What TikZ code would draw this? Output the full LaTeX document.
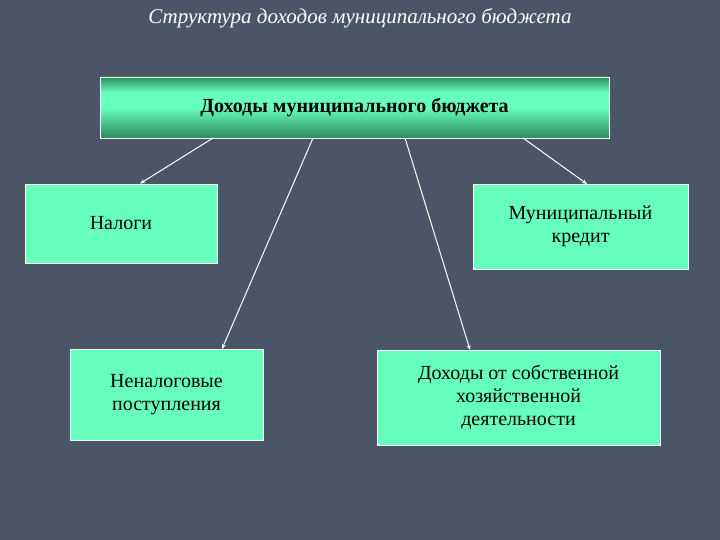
\documentclass[tikz,border=0pt]{standalone}
\usepackage{fontspec}
\setmainfont{Liberation Serif}
\usetikzlibrary{arrows.meta}
\definecolor{bg}{HTML}{4B5568}
\definecolor{boxfill}{HTML}{66FFBB}
\definecolor{darkg}{HTML}{2E8A5A}
\begin{document}
\begin{tikzpicture}[x=1pt,y=-1pt,
  box/.style={draw=white,line width=0.8pt,fill=boxfill,align=center,font=\fontsize{20}{23}\selectfont,inner sep=0pt},
  conn/.style={draw=white,line width=1pt,-{Stealth[length=5pt,width=4pt]}}]
\fill[bg] (0,0) rectangle (720,540);
\useasboundingbox (0,0) rectangle (720,540);
\node[text=white,font=\fontsize{21}{24}\selectfont\itshape] (title) at (360,18) {Структура доходов муниципального бюджета};
\shade[top color=darkg,bottom color=boxfill,middle color=boxfill] (100,77) rectangle (609,107.5);
\shade[top color=boxfill,bottom color=darkg] (100,107.5) rectangle (609,138);
\node[draw=white,line width=0.8pt,minimum width=509pt,minimum height=61pt,inner sep=0pt,font=\fontsize{20}{23}\selectfont\bfseries] (top) at (354.5,107.5) {Доходы муниципального бюджета};
\node[box,minimum width=192pt,minimum height=79pt] (nal) at (121,223.5) {Налоги};
\node[box,minimum width=215pt,minimum height=85pt] (kred) at (580.5,226.5) {Муниципальный\\кредит};
\node[box,minimum width=193pt,minimum height=91pt] (nenal) at (166.5,394.5) {Неналоговые\\поступления};
\node[box,minimum width=283pt,minimum height=95pt] (dokh) at (518.5,397.5) {Доходы от собственной\\хозяйственной\\деятельности};
\draw[conn] (213,138) -- (nal.north -| 140,0);
\draw[conn] (313,138) -- (222,349);
\draw[conn] (405,138) -- (470,350);
\draw[conn] (523,138) -- (587,184);
\end{tikzpicture}
\end{document}
